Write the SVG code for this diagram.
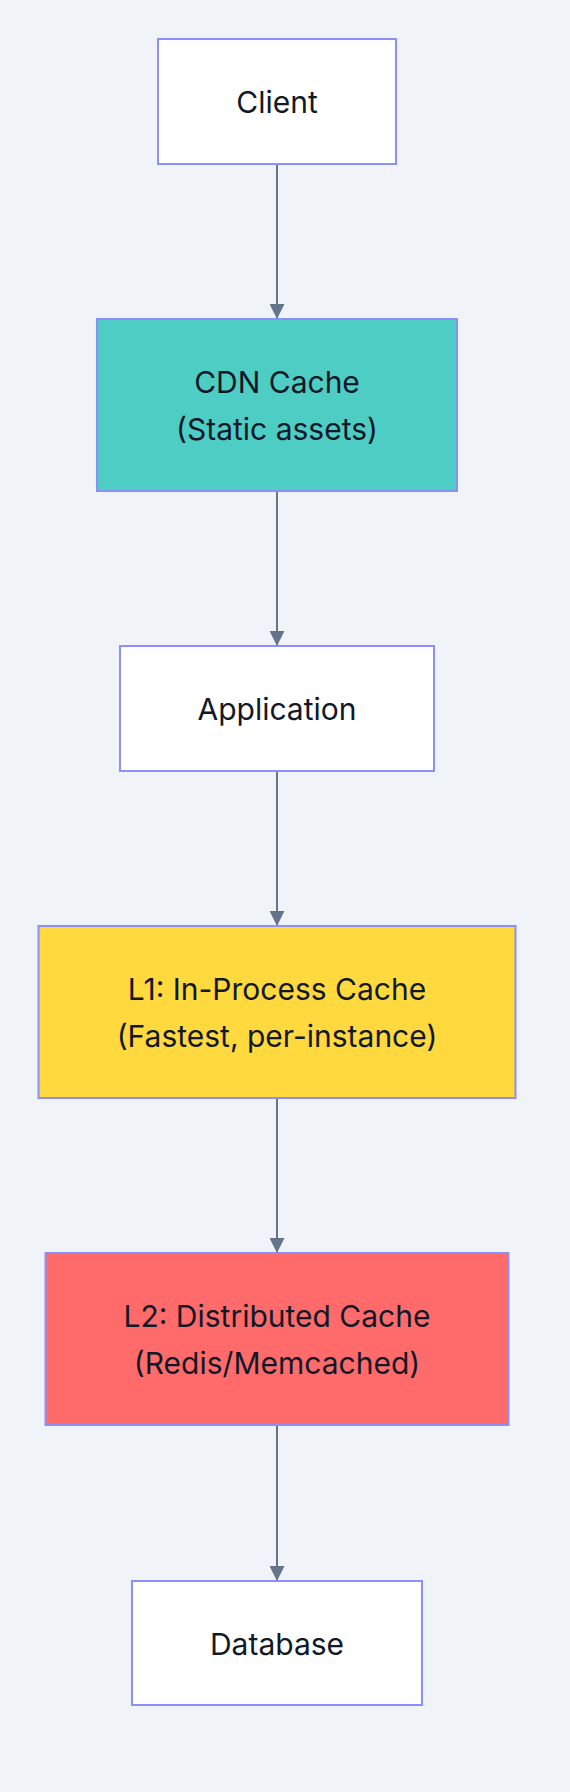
<svg xmlns="http://www.w3.org/2000/svg" width="570" height="1792" viewBox="0 0 570 1792">
  <defs>
    <style>
      .bg { fill: #f0f4f9; }
      .node rect { stroke: #8b8ff7; stroke-width: 2; }
      .plain rect { fill: #ffffff; }
      .cdn rect { fill: #4ecdc4; }
      .l1 rect { fill: #ffd93d; }
      .l2 rect { fill: #ff6b6b; }
      .node text { font-family: Inter, "Liberation Sans", sans-serif; font-size: 30px; fill: #111827; text-anchor: middle; }
      .edge { stroke: #64748b; stroke-width: 2; fill: none; }
    </style>
    <marker id="arrow" viewBox="0 0 10 10" refX="10" refY="5" markerUnits="userSpaceOnUse" markerWidth="15.5" markerHeight="15" orient="auto">
      <path d="M0,0 L10,5 L0,10 z" fill="#64748b"/>
    </marker>
  </defs>
  <rect class="bg" x="0" y="0" width="570" height="1792"/>

  <g id="connectors">
    <path class="edge" d="M277,164 L277,319" marker-end="url(#arrow)"/>
    <path class="edge" d="M277,491 L277,646" marker-end="url(#arrow)"/>
    <path class="edge" d="M277,771 L277,926" marker-end="url(#arrow)"/>
    <path class="edge" d="M277,1098 L277,1253" marker-end="url(#arrow)"/>
    <path class="edge" d="M277,1425 L277,1581" marker-end="url(#arrow)"/>
  </g>

  <g id="client" class="node plain">
    <rect x="158" y="39" width="238" height="125"/>
    <text x="277" y="113">Client</text>
  </g>
  <g id="cdn" class="node cdn">
    <rect x="97" y="319" width="360" height="172"/>
    <text x="277" y="393">CDN Cache</text>
    <text x="277" y="440">(Static assets)</text>
  </g>
  <g id="app" class="node plain">
    <rect x="120" y="646" width="314" height="125"/>
    <text x="277" y="720">Application</text>
  </g>
  <g id="l1" class="node l1">
    <rect x="38.5" y="926" width="477" height="172"/>
    <text x="277" y="1000">L1: In-Process Cache</text>
    <text x="277" y="1047">(Fastest, per-instance)</text>
  </g>
  <g id="l2" class="node l2">
    <rect x="45.5" y="1253" width="463" height="172"/>
    <text x="277" y="1327">L2: Distributed Cache</text>
    <text x="277" y="1374">(Redis/Memcached)</text>
  </g>
  <g id="db" class="node plain">
    <rect x="132" y="1581" width="290" height="124"/>
    <text x="277" y="1655">Database</text>
  </g>
</svg>
